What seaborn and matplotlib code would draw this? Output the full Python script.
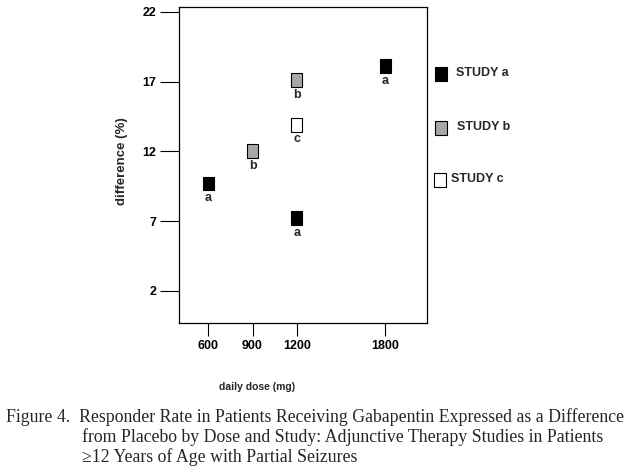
import matplotlib
matplotlib.use("Agg")
import matplotlib.pyplot as plt
import seaborn as sns
import pandas as pd
from matplotlib.path import Path

# ---- data ----
doses = [600, 1200, 1800, 900, 1200, 1200]
diffs = [9.7, 7.2, 18.1, 12.0, 17.1, 13.9]
studies = ["a", "a", "a", "b", "b", "c"]
study_names = ["STUDY a", "STUDY b", "STUDY c"]
x_ticks = [600, 900, 1200, 1800]
y_ticks = [2, 7, 12, 17, 22]
caption_lines = [
    "Figure 4.  Responder Rate in Patients Receiving Gabapentin Expressed as a Difference",
    "from Placebo by Dose and Study: Adjunctive Therapy Studies in Patients",
    "\u226512 Years of Age with Partial Seizures",
]

df = pd.DataFrame({"dose": doses, "diff": diffs, "study": studies})

sns.set_theme(style="white")
plt.rcParams["font.family"] = ["Liberation Sans", "DejaVu Sans"]

fig = plt.figure(figsize=(6.35, 4.75), dpi=100)
ax = fig.add_axes([179 / 635, 1 - 323 / 475, 248 / 635, 316 / 475])

rect = Path([(-0.4, -0.5), (0.4, -0.5), (0.4, 0.5), (-0.4, 0.5), (-0.4, -0.5)],
            [Path.MOVETO, Path.LINETO, Path.LINETO, Path.LINETO, Path.CLOSEPOLY])

face = {"a": "#000000", "b": "#a8a8a8", "c": "#ffffff"}
sns.scatterplot(data=df, x="dose", y="diff", hue="study", palette=face,
                marker=rect, s=100, edgecolor="black", linewidth=0.8,
                legend=False, ax=ax, zorder=3)

for d, v, s in zip(doses, diffs, studies):
    ax.annotate(s, (d, v), xytext=(0, -10.5), textcoords="offset points",
                ha="center", va="center", fontsize=9, fontweight="bold")

ax.set_xlim(402, 2081)
ax.set_ylim(-0.3, 22.35)
ax.set_xticks(x_ticks)
ax.set_yticks(y_ticks)
ax.set_xticklabels([str(t) for t in x_ticks], fontsize=9, fontweight="bold")
ax.set_yticklabels([str(t) for t in y_ticks], fontsize=9, fontweight="bold")
ax.tick_params(axis="y", direction="out", length=13.5, width=0.8, pad=3, left=True, colors="black")
ax.tick_params(axis="x", direction="out", length=9.5, width=0.8, pad=3, bottom=True, colors="black")
for sp in ax.spines.values():
    sp.set_visible(True)
    sp.set_color("black")
    sp.set_linewidth(0.9)
ax.set_xlabel("")
ax.set_ylabel("")

fig.text(121.5 / 635, 1 - 161 / 475, "difference (%)", rotation=90, ha="center", va="center",
         fontsize=9.5, fontweight="bold")
fig.text(257 / 635, 1 - 387 / 475, "daily dose (mg)", ha="center", va="center",
         fontsize=7.5, fontweight="bold")

# legend (outside, right)
leg_y = [74, 128, 180]
leg_mx = [441, 441, 440]
leg_tx = [456, 457, 451]
for name, s, y, mx, tx in zip(study_names, ["a", "b", "c"], leg_y, leg_mx, leg_tx):
    fig.lines.append(plt.Line2D([mx / 635], [1 - y / 475], marker=rect, markersize=10.5,
                                markerfacecolor=face[s], markeredgecolor="black",
                                markeredgewidth=0.8, linestyle="none",
                                transform=fig.transFigure))
    fig.text(tx / 635, 1 - (y - 1) / 475, name, ha="left", va="center",
             fontsize=9, fontweight="bold")

cap_y = [417, 437, 457]
cap_x = [6, 82, 82]
for line, y, x in zip(caption_lines, cap_y, cap_x):
    fig.text(x / 635, 1 - y / 475, line, ha="left", va="center", fontsize=12.8,
             family=["Liberation Serif", "DejaVu Serif"])

fig.savefig("out.png", dpi=100)
